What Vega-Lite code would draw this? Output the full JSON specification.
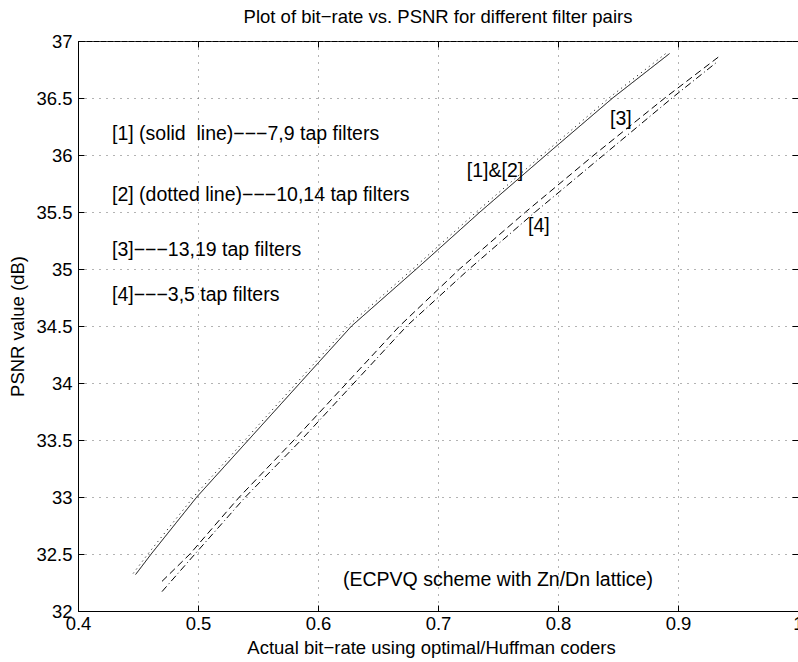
{
  "$schema": "https://vega.github.io/schema/vega-lite/v6.json",
  "width": 720,
  "height": 570,
  "autosize": {"type": "none"},
  "padding": {"left": 78, "top": 41, "right": 0, "bottom": 51},
  "background": "white",
  "config": {
    "font": "Liberation Sans",
    "view": {"stroke": "black", "strokeWidth": 1},
    "axis": {
      "labelFont": "Liberation Sans",
      "titleFont": "Liberation Sans",
      "labelFontSize": 18.5,
      "titleFontSize": 18.5,
      "labelColor": "black",
      "titleColor": "black",
      "titleFontWeight": "normal",
      "domainColor": "black",
      "domainWidth": 1,
      "tickColor": "black",
      "tickWidth": 1,
      "tickSize": -6,
      "gridColor": "#666666",
      "gridDash": [1, 6],
      "gridWidth": 1,
      "gridOpacity": 1,
      "labelFlush": false,
      "labelOverlap": false,
      "labelBound": false
    }
  },
  "title": {
    "text": "Plot of bit−rate vs. PSNR for different filter pairs",
    "fontSize": 18.5,
    "fontWeight": "normal",
    "font": "Liberation Sans",
    "color": "black",
    "anchor": "middle",
    "baseline": "alphabetic",
    "offset": -9
  },
  "datasets": {
    "curves": [
      {"series": "[1]", "x": 0.448, "y": 32.32},
      {"series": "[1]", "x": 0.461, "y": 32.5},
      {"series": "[1]", "x": 0.499, "y": 33.0},
      {"series": "[1]", "x": 0.542, "y": 33.5},
      {"series": "[1]", "x": 0.585, "y": 34.0},
      {"series": "[1]", "x": 0.628, "y": 34.5},
      {"series": "[1]", "x": 0.682, "y": 35.0},
      {"series": "[1]", "x": 0.735, "y": 35.5},
      {"series": "[1]", "x": 0.79, "y": 36.0},
      {"series": "[1]", "x": 0.8456, "y": 36.5},
      {"series": "[1]", "x": 0.893, "y": 36.89},
      {"series": "[2]", "x": 0.446, "y": 32.33},
      {"series": "[2]", "x": 0.459, "y": 32.51},
      {"series": "[2]", "x": 0.497, "y": 33.01},
      {"series": "[2]", "x": 0.54, "y": 33.51},
      {"series": "[2]", "x": 0.583, "y": 34.01},
      {"series": "[2]", "x": 0.626, "y": 34.51},
      {"series": "[2]", "x": 0.68, "y": 35.01},
      {"series": "[2]", "x": 0.733, "y": 35.51},
      {"series": "[2]", "x": 0.788, "y": 36.01},
      {"series": "[2]", "x": 0.8436, "y": 36.51},
      {"series": "[2]", "x": 0.891, "y": 36.9},
      {"series": "[3]", "x": 0.47, "y": 32.26},
      {"series": "[3]", "x": 0.4933, "y": 32.5},
      {"series": "[3]", "x": 0.5345, "y": 33.0},
      {"series": "[3]", "x": 0.58, "y": 33.5},
      {"series": "[3]", "x": 0.624, "y": 34.0},
      {"series": "[3]", "x": 0.668, "y": 34.5},
      {"series": "[3]", "x": 0.718, "y": 35.0},
      {"series": "[3]", "x": 0.773, "y": 35.5},
      {"series": "[3]", "x": 0.83, "y": 36.0},
      {"series": "[3]", "x": 0.889, "y": 36.5},
      {"series": "[3]", "x": 0.935, "y": 36.87},
      {"series": "[4]", "x": 0.47, "y": 32.17},
      {"series": "[4]", "x": 0.4975, "y": 32.5},
      {"series": "[4]", "x": 0.5395, "y": 33.0},
      {"series": "[4]", "x": 0.586, "y": 33.5},
      {"series": "[4]", "x": 0.63, "y": 34.0},
      {"series": "[4]", "x": 0.674, "y": 34.5},
      {"series": "[4]", "x": 0.726, "y": 35.0},
      {"series": "[4]", "x": 0.781, "y": 35.5},
      {"series": "[4]", "x": 0.838, "y": 36.0},
      {"series": "[4]", "x": 0.895, "y": 36.5},
      {"series": "[4]", "x": 0.933, "y": 36.82}
    ],
    "notes": [
      {"label": "[1] (solid\u00a0 line)−−−7,9 tap filters", "x": 0.4283, "y": 36.18},
      {"label": "[2] (dotted line)−−−10,14 tap filters", "x": 0.4283, "y": 35.65},
      {"label": "[3]−−−13,19 tap filters", "x": 0.4283, "y": 35.17},
      {"label": "[4]−−−3,5 tap filters", "x": 0.4283, "y": 34.77},
      {"label": "[1]&[2]", "x": 0.724, "y": 35.86},
      {"label": "[4]", "x": 0.775, "y": 35.38},
      {"label": "[3]", "x": 0.8433, "y": 36.32},
      {"label": "(ECPVQ scheme with Zn/Dn lattice)", "x": 0.6208, "y": 32.27}
    ]
  },
  "layer": [
    {
      "data": {"name": "curves"},
      "mark": {"type": "line", "strokeWidth": 1, "color": "black"},
      "encoding": {
        "x": {
          "field": "x", "type": "quantitative",
          "scale": {"domain": [0.4, 1.0], "nice": false, "zero": false},
          "axis": {
            "orient": "bottom",
            "values": [0.4, 0.5, 0.6, 0.7, 0.8, 0.9, 1.0],
            "format": ".1~f",
            "grid": true,
            "labelPadding": 9,
            "title": "Actual bit−rate using optimal/Huffman coders",
            "titlePadding": 6,
            "titleX": 353
          }
        },
        "y": {
          "field": "y", "type": "quantitative",
          "scale": {"domain": [32, 37], "nice": false, "zero": false},
          "axis": {
            "orient": "left",
            "values": [32, 32.5, 33, 33.5, 34, 34.5, 35, 35.5, 36, 36.5, 37],
            "format": ".1~f",
            "grid": true,
            "labelPadding": 12,
            "title": "PSNR value (dB)",
            "titlePadding": 8
          }
        },
        "strokeDash": {
          "field": "series", "type": "nominal",
          "scale": {"domain": ["[1]", "[2]", "[3]", "[4]"], "range": [[1, 0], [1, 4], [7, 4], [7, 3, 1, 3]]},
          "legend": null
        },
        "detail": {"field": "series", "type": "nominal"},
        "order": {"field": "y", "type": "quantitative"}
      }
    },
    {
      "data": {"name": "notes"},
      "mark": {"type": "text", "align": "left", "baseline": "middle", "fontSize": 19.5, "font": "Liberation Sans", "color": "black"},
      "encoding": {
        "x": {
          "field": "x", "type": "quantitative",
          "axis": {"orient": "top", "values": [0.4, 0.5, 0.6, 0.7, 0.8, 0.9, 1.0], "labels": false, "grid": false, "domain": false, "title": null}
        },
        "y": {
          "field": "y", "type": "quantitative",
          "axis": {"orient": "right", "values": [32, 32.5, 33, 33.5, 34, 34.5, 35, 35.5, 36, 36.5, 37], "labels": false, "grid": false, "domain": false, "title": null}
        },
        "text": {"field": "label", "type": "nominal"}
      }
    }
  ],
  "resolve": {"axis": {"x": "independent", "y": "independent"}}
}
